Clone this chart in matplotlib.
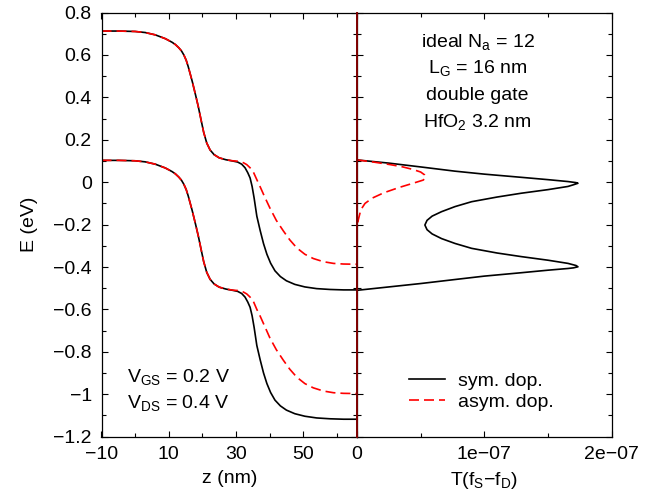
import matplotlib
matplotlib.use("Agg")
import matplotlib.pyplot as plt
from matplotlib.ticker import FuncFormatter

plt.rcParams['font.family'] = ['Liberation Sans', 'DejaVu Sans']
plt.rcParams['mathtext.fontset'] = 'custom'
plt.rcParams['mathtext.rm'] = 'Liberation Sans'
plt.rcParams['mathtext.it'] = 'Liberation Sans:italic'
plt.rcParams['font.size'] = 14

# left panel: band profiles E(z)
z_sym = [-10, -5, 0, 3, 6, 9, 11, 12, 13, 13.8, 14.5, 15.2, 15.8, 17, 18, 18.8, 19.6,
         20.4, 21.3, 22.3, 23.5, 25, 27, 29, 30.5, 31.7, 32.7, 33.5, 34.2, 34.8, 35.4,
         36.2, 37.2, 38.2, 39.2, 40.3, 41.6, 43.2, 45, 47.5, 50.5, 54, 58, 62, 66]
e_sym_upper = [0.713, 0.713, 0.711, 0.706, 0.695, 0.677, 0.660, 0.649, 0.634, 0.619,
               0.600, 0.575, 0.545, 0.475, 0.410, 0.356, 0.295, 0.235, 0.185, 0.152,
               0.130, 0.115, 0.106, 0.100, 0.095, 0.085, 0.068, 0.045, 0.020, -0.020,
               -0.075, -0.160, -0.228, -0.290, -0.340, -0.382, -0.418, -0.445, -0.465,
               -0.482, -0.494, -0.502, -0.506, -0.508, -0.508]
e_sym_lower = [0.103, 0.103, 0.101, 0.096, 0.085, 0.067, 0.050, 0.039, 0.024, 0.009,
               -0.010, -0.035, -0.065, -0.135, -0.200, -0.254, -0.315, -0.375, -0.425,
               -0.458, -0.480, -0.495, -0.504, -0.510, -0.515, -0.525, -0.542, -0.565,
               -0.590, -0.630, -0.685, -0.770, -0.838, -0.900, -0.950, -0.992, -1.028,
               -1.055, -1.075, -1.092, -1.104, -1.112, -1.116, -1.118, -1.118]

z_asym = [-10, -5, 0, 3, 6, 9, 11, 12, 13, 13.8, 14.5, 15.2, 15.8, 17, 18, 18.8, 19.6,
          20.4, 21.3, 22.3, 23.5, 25, 27, 29, 30.5, 32.2, 33.2, 34.2, 35.2, 36.2, 37.2,
          38.5, 40.1, 42, 44.1, 46, 48.1, 50.5, 53, 56, 59, 62, 66]
e_asym_upper = [0.713, 0.713, 0.711, 0.706, 0.695, 0.677, 0.660, 0.649, 0.634, 0.619,
                0.600, 0.575, 0.545, 0.475, 0.410, 0.356, 0.295, 0.235, 0.185, 0.152,
                0.130, 0.115, 0.106, 0.101, 0.099, 0.092, 0.083, 0.068, 0.047, 0.012,
                -0.022, -0.068, -0.122, -0.180, -0.230, -0.272, -0.310, -0.340, -0.360,
                -0.375, -0.383, -0.386, -0.387]
e_asym_lower = [0.103, 0.103, 0.101, 0.096, 0.085, 0.067, 0.050, 0.039, 0.024, 0.009,
                -0.010, -0.035, -0.065, -0.135, -0.200, -0.254, -0.315, -0.375, -0.425,
                -0.458, -0.480, -0.495, -0.504, -0.509, -0.511, -0.518, -0.527, -0.542,
                -0.563, -0.600, -0.632, -0.678, -0.735, -0.790, -0.840, -0.882, -0.920,
                -0.950, -0.970, -0.985, -0.993, -0.996, -0.997]

# right panel: T(fS - fD) vs E, T in units of 1e-7
t_sym = [0, 0.25, 0.5, 0.77, 1.0, 1.29, 1.5, 1.657, 1.72, 1.735, 1.70, 1.657, 1.50,
         1.29, 1.10, 0.90, 0.77, 0.664, 0.59, 0.55, 0.533, 0.55, 0.59, 0.664, 0.77,
         0.90, 1.10, 1.29, 1.50, 1.657, 1.72, 1.735, 1.70, 1.657, 1.5, 1.29, 1.0, 0.77,
         0.5, 0.25, 0]
et_sym = [0.105, 0.090, 0.072, 0.052, 0.038, 0.023, 0.012, 0.003, -0.002, -0.005,
          -0.012, -0.020, -0.035, -0.052, -0.070, -0.092, -0.115, -0.139, -0.160,
          -0.180, -0.202, -0.224, -0.244, -0.266, -0.289, -0.312, -0.334, -0.351,
          -0.368, -0.383, -0.393, -0.399, -0.404, -0.407, -0.415, -0.427, -0.443,
          -0.459, -0.478, -0.494, -0.510]
t_asym = [0, 0.13, 0.26, 0.36, 0.44, 0.50, 0.53, 0.54, 0.52, 0.44, 0.33, 0.21,
          0.12, 0.063, 0.03, 0.01, 0.0, 0.0]
et_asym = [0.105, 0.095, 0.083, 0.072, 0.060, 0.048, 0.035, 0.022, 0.010, -0.005,
           -0.025, -0.050, -0.075, -0.100, -0.130, -0.178, -0.22, -0.39]

e_ticks = [0.8, 0.6, 0.4, 0.2, 0, -0.2, -0.4, -0.6, -0.8, -1, -1.2]
e_minor = [0.7, 0.5, 0.3, 0.1, -0.1, -0.3, -0.5, -0.7, -0.9, -1.1]
z_ticks = [-10, 10, 30, 50]
z_minor = [0, 20, 40, 60]
t_ticks = [0, 1e-7, 2e-7]
t_minor = [0.5e-7, 1.5e-7]
t_tick_labels = ['0', '1e\u221207', '2e\u221207']

scale = 1e-7


def fmt(v, pos=None):
    return ('%g' % v).replace('-', '\u2212')


fig = plt.figure(figsize=(6.49, 4.94), dpi=100)
ax1 = fig.add_axes([101.5 / 649, 57.4 / 494, 255.5 / 649, 424 / 494])
ax2 = fig.add_axes([357 / 649, 57.4 / 494, 254.7 / 649, 424 / 494])

dash = (0, (6, 3))
ax1.plot(z_sym, e_sym_upper, color='black', lw=1.2)
ax1.plot(z_sym, e_sym_lower, color='black', lw=1.2)
ax1.plot(z_asym, e_asym_upper, color='red', lw=1.2, ls=dash)
ax1.plot(z_asym, e_asym_lower, color='red', lw=1.2, ls=dash)

ax2.plot([t * scale for t in t_sym], et_sym, color='black', lw=1.2, label='sym. dop.')
ax2.plot([t * scale for t in t_asym], et_asym, color='red', lw=1.2, ls=dash,
         label='asym. dop.')
ax2.axvline(0, color='#800000', lw=1.4, zorder=5, clip_on=False)

ax1.set_xlim(-10, 66)
ax1.set_ylim(-1.2, 0.8)
ax2.set_xlim(0, 2e-7)
ax2.set_ylim(-1.2, 0.8)

ax1.set_xticks(z_ticks)
ax1.set_xticklabels([fmt(v) for v in z_ticks])
ax1.set_xticks(z_minor, minor=True)
ax1.set_yticks(e_ticks)
ax1.yaxis.set_major_formatter(FuncFormatter(fmt))
ax1.set_yticks(e_minor, minor=True)

ax2.set_xticks(t_ticks)
ax2.set_xticklabels(t_tick_labels)
ax2.set_xticks(t_minor, minor=True)
ax2.set_yticks(e_ticks)
ax2.set_yticks(e_minor, minor=True)

for ax in (ax1, ax2):
    ax.tick_params(which='both', direction='in', top=True, right=True, width=0.8)
    ax.tick_params(which='major', length=4, pad=7)
    ax.tick_params(which='minor', length=2.8)
    for s in ax.spines.values():
        s.set_linewidth(0.9)
ax2.tick_params(labelleft=False)

ax1.set_ylabel('E (eV)', labelpad=11)
ax1.set_xlabel('z (nm)', labelpad=5)
ax2.set_xlabel(r'T(f$_\mathrm{S}$$\mathrm{-}$f$_\mathrm{D}$)', labelpad=5)

ax1.text(0.101, 0.1295, r'V$_\mathrm{GS}$ = 0.2 V', transform=ax1.transAxes,
         ha='left', va='baseline')
ax1.text(0.101, 0.0667, r'V$_\mathrm{DS}$ = 0.4 V', transform=ax1.transAxes,
         ha='left', va='baseline')

info = [r'ideal N$_\mathrm{a}$ = 12', r'L$_\mathrm{G}$ = 16 nm', 'double gate',
        r'HfO$_\mathrm{2}$ 3.2 nm']
for i, s in enumerate(info):
    ax2.text(0.473, 0.9196 - i * 0.0629, s, transform=ax2.transAxes,
             ha='center', va='baseline')

ax2.legend(loc='lower left', bbox_to_anchor=(0.204, 0.06), frameon=False,
           handlelength=1.85, handletextpad=0.65, labelspacing=0.2, borderpad=0,
           borderaxespad=0)

fig.savefig('out.png', dpi=100)
